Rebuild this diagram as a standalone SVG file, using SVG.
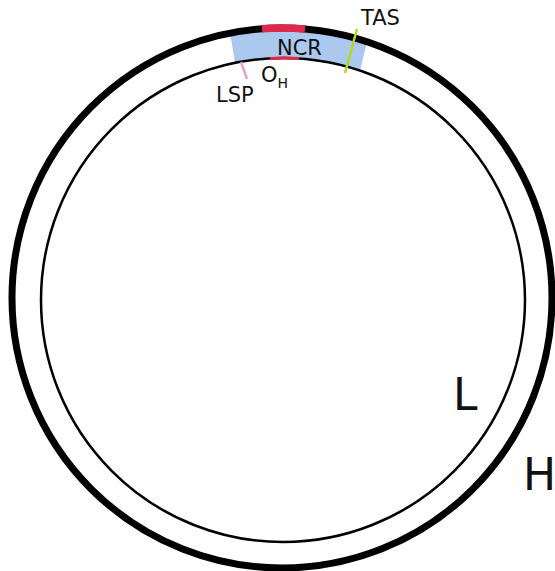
<svg xmlns="http://www.w3.org/2000/svg" width="555" height="571" viewBox="0 0 555 571">
<style>
text{font-family:"DejaVu Sans","Liberation Sans",sans-serif;fill:#111}
.lbl{font-size:21px}
.big{font-size:44px}
</style>
<rect width="555" height="571" fill="#fff"/>
<g id="ncr-region">
<path d="M 230,33 A 270 270 0 0 1 367,42 L 360,70.6 A 242 242 0 0 0 235,62.8 Z" fill="#abc9ef"/>
</g>
<g id="H-strand">
<circle cx="282" cy="298" r="270" fill="none" stroke="#000" stroke-width="7"/>
<path d="M 262,28.7 A 270 270 0 0 1 305,29" fill="none" stroke="#e0294a" stroke-width="7.5"/>
</g>
<g id="L-strand">
<circle cx="283" cy="300" r="242" fill="none" stroke="#000" stroke-width="2.5"/>
<path d="M 270,58.4 A 242 242 0 0 1 299,58.5" fill="none" stroke="#e0294a" stroke-width="3"/>
</g>
<g id="connectors">
<line x1="357" y1="29" x2="345" y2="73" stroke="#b5d81b" stroke-width="2.5"/>
<line x1="241" y1="62" x2="247" y2="79" stroke="#e4a4c4" stroke-width="2.5"/>
</g>
<g id="labels">
<text class="lbl" x="277" y="55">NCR</text>
<text class="lbl" x="361" y="25">TAS</text>
<text class="lbl" x="216" y="102">LSP</text>
<text class="lbl" x="261" y="82">O<tspan font-size="14" dy="6">H</tspan></text>
<text class="big" x="453" y="410">L</text>
<text class="big" x="523" y="490">H</text>
</g>
</svg>
